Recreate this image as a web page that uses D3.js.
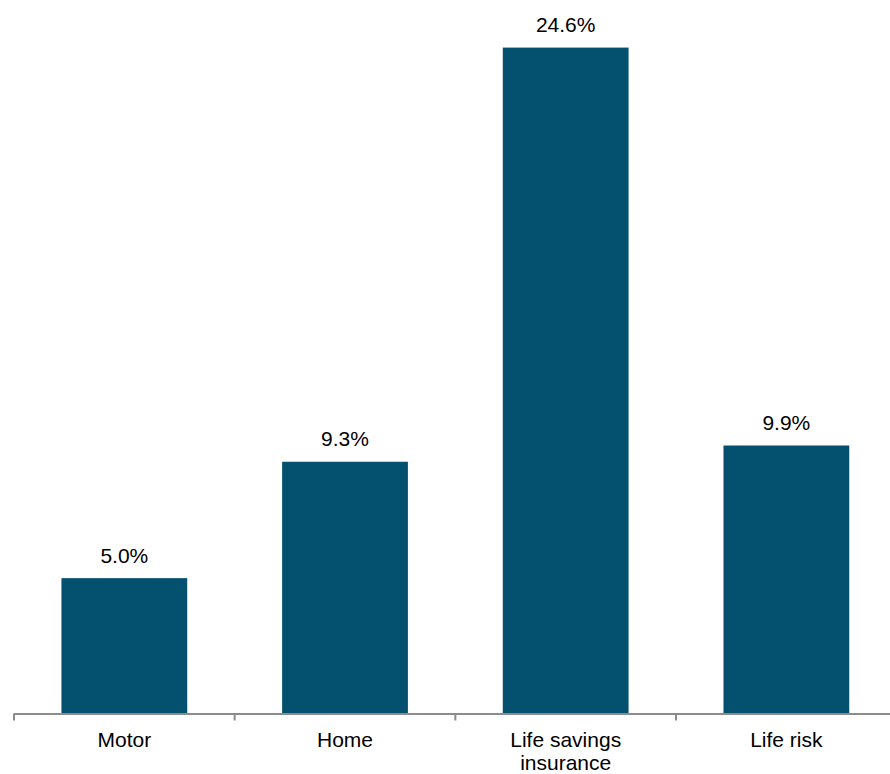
<!DOCTYPE html>
<html><head><meta charset="utf-8">
<script src="https://cdn.jsdelivr.net/npm/d3@7"></script>
<style>body{margin:0;background:#fff}svg{display:block}text{font-family:"Liberation Sans",Arial,sans-serif}</style>
</head><body>
<svg id="c" width="890" height="774"></svg>
<script>
const categories = ["Motor", "Home", "Life savings\ninsurance", "Life risk"];
const values = [5.0, 9.3, 24.6, 9.9];
const valueLabels = ["5.0%", "9.3%", "24.6%", "9.9%"];

const svg = d3.select("#c");
const x = d3.scaleBand().domain(categories).range([14, 896.7]).paddingInner(0.43).paddingOuter(0.215);
const y = d3.scaleLinear().domain([0, 25]).range([713.5, 36.75]);
const color = "#04516F";

svg.selectAll("rect.bar").data(values).join("rect")
  .attr("class", "bar")
  .attr("x", (d, i) => x(categories[i]))
  .attr("width", x.bandwidth())
  .attr("y", d => y(d))
  .attr("height", d => y(0) - y(d))
  .attr("fill", color);

svg.selectAll("text.val").data(values).join("text")
  .attr("class", "val")
  .attr("x", (d, i) => x(categories[i]) + x.bandwidth() / 2)
  .attr("y", d => y(d) - 15.5)
  .attr("text-anchor", "middle")
  .attr("font-size", 21)
  .attr("fill", "#000")
  .text((d, i) => valueLabels[i]);

// axis line
const step = x.step();
const x0 = 14;
svg.append("line")
  .attr("x1", x0).attr("x2", 890)
  .attr("y1", y(0) + 0.5).attr("y2", y(0) + 0.5)
  .attr("stroke", "#8c8c8c").attr("stroke-width", 2);
const tickXs = d3.range(categories.length + 1).map(i => x0 + i * step);
svg.selectAll("line.tick").data(tickXs).join("line")
  .attr("class", "tick")
  .attr("x1", d => d).attr("x2", d => d)
  .attr("y1", y(0)).attr("y2", y(0) + 7)
  .attr("stroke", "#8c8c8c").attr("stroke-width", 2);

// category labels
const lab = svg.selectAll("text.cat").data(categories).join("text")
  .attr("class", "cat")
  .attr("text-anchor", "middle")
  .attr("font-size", 21)
  .attr("fill", "#000");
lab.each(function(d) {
  const t = d3.select(this);
  const cx = x(d) + x.bandwidth() / 2;
  d.split("\n").forEach((line, j) => {
    t.append("tspan").attr("x", cx).attr("y", 747 + j * 22.5).text(line);
  });
});
</script>
</body></html>
